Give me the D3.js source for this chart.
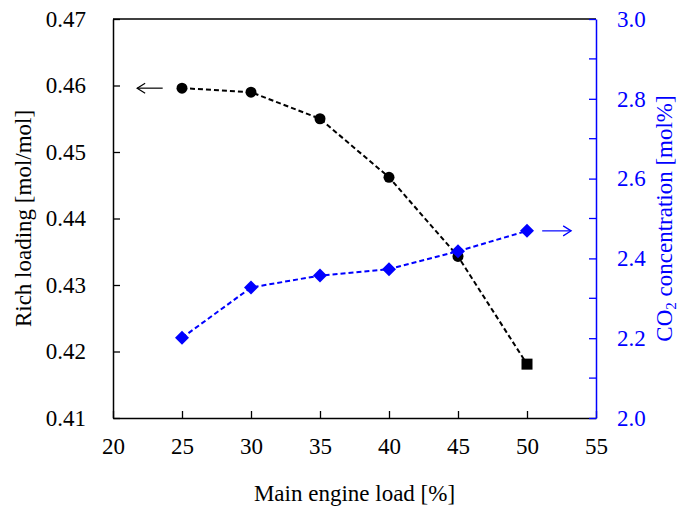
<!DOCTYPE html>
<html lang="en">
<head>
    <meta charset="UTF-8">
    <title>Rich loading and CO2 concentration</title>
    <script src="https://d3js.org/d3.v7.min.js"></script>
    <style>
        body { margin: 0; background: #fff; }
        svg text { font-family: "Times New Roman", "Liberation Serif", "DejaVu Serif", serif !important; }
    </style>
</head>
<body>
    <svg id="chart"></svg>

    <script>
        // data
        const engineLoad = [25, 30, 35, 40, 45, 50];
        const richLoading = [0.4596, 0.4590, 0.4550, 0.4462, 0.4343, 0.4181];
        const co2Conc = [2.201, 2.327, 2.357, 2.373, 2.418, 2.469];
        const xTicks = [20, 25, 30, 35, 40, 45, 50, 55];
        const yLeftTicks = [0.41, 0.42, 0.43, 0.44, 0.45, 0.46, 0.47];
        const yRightTicks = [2.0, 2.2, 2.4, 2.6, 2.8, 3.0];
        const yRightMinor = [2.1, 2.3, 2.5, 2.7, 2.9];

        const width = 681, height = 508;
        const margin = { top: 19, right: 85, bottom: 90, left: 113 };
        const blue = "#0000ff";
        const serif = "'Times New Roman', 'Liberation Serif', 'DejaVu Serif', serif";
        const fs = 23;

        const svg = d3.select("#chart")
            .attr("width", width)
            .attr("height", height);

        const x = d3.scaleLinear().domain([20, 55]).range([margin.left, width - margin.right]);
        const yL = d3.scaleLinear().domain([0.41, 0.47]).range([height - margin.bottom, margin.top]);
        const yR = d3.scaleLinear().domain([2.0, 3.0]).range([height - margin.bottom, margin.top]);

        const x0 = margin.left, x1 = width - margin.right;
        const y0 = height - margin.bottom, y1 = margin.top;

        // frame: top line
        svg.append("line")
            .attr("x1", x0).attr("x2", x1).attr("y1", y1).attr("y2", y1)
            .attr("stroke", "#000").attr("stroke-width", 1.5);

        // bottom axis, ticks inward
        const xAxis = svg.append("g")
            .attr("transform", `translate(0,${y0})`)
            .call(d3.axisBottom(x).tickValues(xTicks).tickSizeInner(-7).tickSizeOuter(0).tickPadding(20));
        xAxis.attr("font-family", serif);
        xAxis.select(".domain").attr("stroke-width", 1.5);
        xAxis.selectAll("line").attr("stroke-width", 1.3);
        xAxis.selectAll("text").attr("font-size", fs).attr("fill", "#000");

        // left axis
        const yAxisL = svg.append("g")
            .attr("transform", `translate(${x0},0)`)
            .call(d3.axisLeft(yL).tickValues(yLeftTicks).tickFormat(d3.format(".2f"))
                .tickSizeInner(-7).tickSizeOuter(0).tickPadding(27));
        yAxisL.attr("font-family", serif);
        yAxisL.select(".domain").attr("stroke-width", 1.5);
        yAxisL.selectAll("line").attr("stroke-width", 1.3);
        yAxisL.selectAll("text").attr("font-size", fs).attr("fill", "#000");

        // right axis in blue
        const yAxisR = svg.append("g")
            .attr("transform", `translate(${x1},0)`)
            .call(d3.axisRight(yR).tickValues(yRightTicks).tickFormat(d3.format(".1f"))
                .tickSizeInner(-7).tickSizeOuter(0).tickPadding(21));
        yAxisR.attr("font-family", serif);
        yAxisR.select(".domain").attr("stroke", blue).attr("stroke-width", 1.5);
        yAxisR.selectAll("line").attr("stroke", blue).attr("stroke-width", 1.3);
        yAxisR.selectAll("text").attr("font-size", fs).attr("fill", blue);

        svg.append("g").selectAll("line")
            .data(yRightMinor)
            .join("line")
            .attr("x1", x1 - 7).attr("x2", x1)
            .attr("y1", d => yR(d)).attr("y2", d => yR(d))
            .attr("stroke", blue).attr("stroke-width", 1.3);

        // series
        const richData = engineLoad.map((d, i) => ({ x: d, y: richLoading[i] }));
        const co2Data = engineLoad.map((d, i) => ({ x: d, y: co2Conc[i] }));

        svg.append("path")
            .datum(richData)
            .attr("fill", "none")
            .attr("stroke", "#000")
            .attr("stroke-width", 2)
            .attr("stroke-dasharray", "5,3")
            .attr("d", d3.line().x(d => x(d.x)).y(d => yL(d.y)));

        svg.append("path")
            .datum(co2Data)
            .attr("fill", "none")
            .attr("stroke", blue)
            .attr("stroke-width", 2)
            .attr("stroke-dasharray", "5,3")
            .attr("d", d3.line().x(d => x(d.x)).y(d => yR(d.y)));

        svg.append("g").selectAll("circle")
            .data(richData.slice(0, -1))
            .join("circle")
            .attr("cx", d => x(d.x))
            .attr("cy", d => yL(d.y))
            .attr("r", 5.5)
            .attr("fill", "#000");

        const last = richData[richData.length - 1];
        svg.append("rect")
            .attr("x", x(last.x) - 5.5)
            .attr("y", yL(last.y) - 5.5)
            .attr("width", 11)
            .attr("height", 11)
            .attr("fill", "#000");

        svg.append("g").selectAll("path")
            .data(co2Data)
            .join("path")
            .attr("transform", d => `translate(${x(d.x)},${yR(d.y)})`)
            .attr("d", "M0,-7L7,0L0,7L-7,0Z")
            .attr("fill", blue);

        // arrows pointing to each axis
        const arrow = (g, xa, xb, y, color) => {
            g.append("line").attr("x1", xa).attr("x2", xb).attr("y1", y).attr("y2", y)
                .attr("stroke", color).attr("stroke-width", 1.2);
            const dir = xb > xa ? -1 : 1;
            g.append("path")
                .attr("d", `M${xb + dir * 8},${y - 5}L${xb},${y}L${xb + dir * 8},${y + 5}`)
                .attr("fill", "none").attr("stroke", color).attr("stroke-width", 1.2);
        };
        arrow(svg.append("g"), x(23.6), x(21.75), yL(richLoading[0]), "#000");
        arrow(svg.append("g"), x(51.1), x(53.2), yR(co2Conc[5]), blue);

        // axis titles
        svg.append("text")
            .attr("x", (x0 + x1) / 2)
            .attr("y", 501)
            .attr("text-anchor", "middle")
            .attr("font-family", serif)
            .attr("font-size", fs)
            .text("Main engine load [%]");

        svg.append("text")
            .attr("text-anchor", "middle")
            .attr("transform", `translate(31,${(y0 + y1) / 2}) rotate(-90)`)
            .attr("font-family", serif)
            .attr("font-size", fs)
            .text("Rich loading [mol/mol]");

        const rt = svg.append("text")
            .attr("text-anchor", "middle")
            .attr("transform", `translate(672,${(y0 + y1) / 2}) rotate(-90)`)
            .attr("font-family", serif)
            .attr("font-size", fs)
            .attr("fill", blue);
        rt.append("tspan").text("CO");
        rt.append("tspan").attr("font-size", 15).attr("dy", 4).text("2");
        rt.append("tspan").attr("dy", -4).text(" concentration [mol%]");
    </script>
</body>
</html>
